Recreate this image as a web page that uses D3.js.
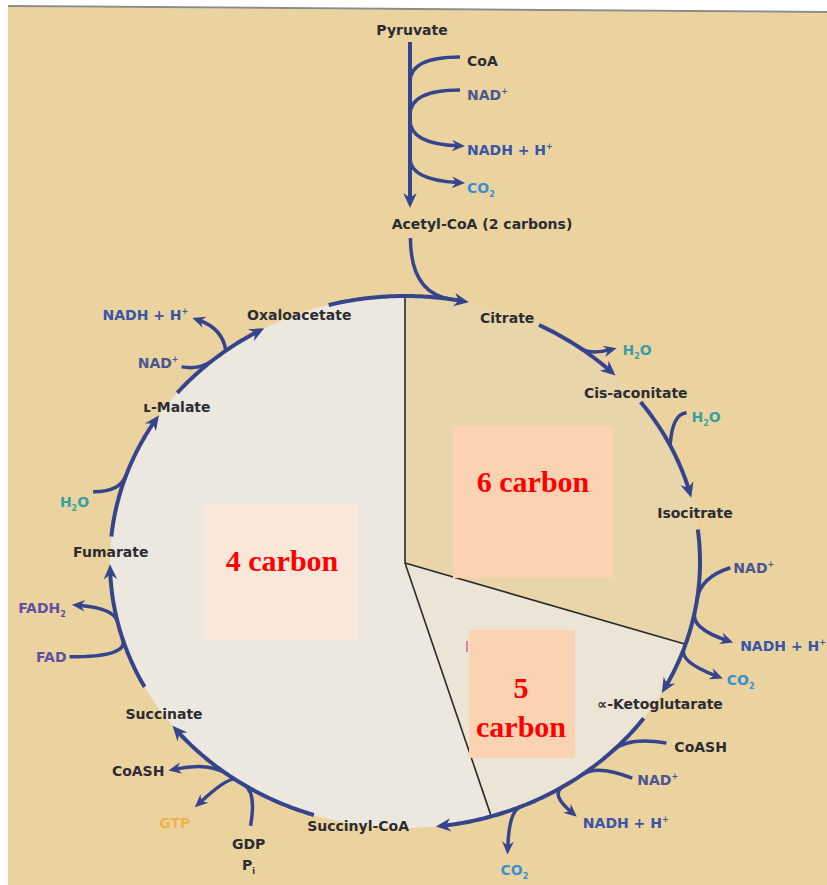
<!DOCTYPE html>
<html lang="en">
<head>
<meta charset="UTF-8">
<title>Citric acid cycle</title>
<script src="https://d3js.org/d3.v7.min.js"></script>
<style>
  body { margin: 0; background: #fff; }
  svg text { font-family: "DejaVu Sans", "Liberation Sans", sans-serif; font-weight: bold; }
</style>
</head>
<body>
<svg width="827" height="885"></svg>
<script>
// cycle intermediates, clockwise from the top (angle in degrees, 0 = top of the ring)
var metabolites = ["Citrate", "Cis-aconitate", "Isocitrate", "\u221D-Ketoglutarate", "Succinyl-CoA",
                   "Succinate", "Fumarate", "\u029F-Malate", "Oxaloacetate"];
var metaboliteAngle = [20.7, 50.9, 79.4, 121.7, 189.1, 235, 272.2, 307, 338.9];
var metaboliteRadius = [0.98, 1.008, 1.0, 1.016, 1.005, 0.997, 0.998, 0.968, 0.996];

// arrow i goes from metabolite i to metabolite i+1
var stepStart = [27, 53, 83, 126, 198, 242, 275.5, 309.5, 345];
var stepEnd = [45.5, 76, 119.5, 174, 232, 269.5, 303.5, 331.5, 372.5];

// carbon count sectors
var sectorLabels = ["6 carbon", "5 carbon", "4 carbon"];
var sectorFrom = [0, 108, 163];
var sectorTo = [108, 163, 360];

// side reactions on the ring: a = join angle, t/n = tip offset along / out of the ring, ct/cn = bend point
var ringSides = [
  {text: "H_2O", kind: "water", dir: "out", a: 36.5, t: 30, n: 20, ct: 12, anchor: "start", dx: 6, dy: 2},
  {text: "H_2O", kind: "water", dir: "in", a: 64, t: -21, n: 30, ct: -27, cn: 17, anchor: "start", dx: 5, dy: 4},
  {text: "NAD^+", kind: "nad", dir: "in", a: 98, t: -36, n: 28, ct: -22, anchor: "start", dx: 3, dy: 0},
  {text: "NADH + H^+", kind: "nadh", dir: "out", a: 101, t: 21, n: 44, ct: 16, anchor: "start", dx: 7, dy: 3},
  {text: "CO_2", kind: "co2", dir: "out", a: 109, t: 14, n: 47, ct: 14, anchor: "start", dx: 4, dy: 2},
  {text: "CoASH", kind: "dark", dir: "in", a: 135, t: -44, n: 30, ct: -20, anchor: "start", dx: 8, dy: 4},
  {text: "NAD^+", kind: "nad", dir: "in", a: 143, t: -39, n: 31, ct: -18, anchor: "start", dx: 5, dy: 2},
  {text: "NADH + H^+", kind: "nadh", dir: "out", a: 147.6, t: 3, n: 33, ct: 15, anchor: "start", dx: 6, dy: 6},
  {text: "CO_2", kind: "co2", dir: "out", a: 157, t: 29, n: 40, ct: 12, anchor: "middle", dx: 7, dy: 15},
  {text: "GDP\nP_i", kind: "dark", dir: "in", a: 213, t: -26, n: 32, ct: -14, anchor: "middle", dx: -2, dy: 18},
  {text: "GTP", kind: "gtp", dir: "out", a: 215, t: 20, n: 45, ct: 8, anchor: "middle", dx: -20, dy: 16},
  {text: "CoASH", kind: "dark", dir: "out", a: 217, t: 51, n: 30, ct: 22, anchor: "end", dx: -4, dy: 0},
  {text: "FAD", kind: "fad", dir: "in", a: 253, t: 1, n: 56, ct: -18, anchor: "end", dx: -3, dy: 0},
  {text: "FADH_2", kind: "fad", dir: "out", a: 257, t: 28, n: 40, ct: 14, anchor: "end", dx: -6, dy: 3},
  {text: "H_2O", kind: "water", dir: "in", a: 289, t: -27, n: 25, ct: -18, anchor: "end", dx: -4, dy: 10},
  {text: "NAD^+", kind: "nad", dir: "in", a: 319, t: -27, n: 14, ct: -14, anchor: "end", dx: -3, dy: -4},
  {text: "NADH + H^+", kind: "nadh", dir: "out", a: 322.6, t: -9, n: 46, ct: 10, cn: 20, anchor: "end", dx: -4, dy: -3},
  {text: "", kind: "dark", dir: "in", a: 9, t: -49, n: 55, ct: -41, anchor: "start", dx: 0, dy: 0}
];

// pyruvate -> acetyl-CoA stem, "at" = y where the side arrow joins
var stemSides = [
  {text: "CoA", kind: "dark", dir: "in", at: 82, t: -25, n: 50, ct: -25, anchor: "start", dx: 7, dy: 4},
  {text: "NAD^+", kind: "nad", dir: "in", at: 115, t: -25, n: 50, ct: -25, anchor: "start", dx: 7, dy: 5},
  {text: "NADH + H^+", kind: "nadh", dir: "out", at: 120, t: 26, n: 55, ct: 24, anchor: "start", dx: 2, dy: 4},
  {text: "CO_2", kind: "co2", dir: "out", at: 158, t: 25, n: 55, ct: 22, anchor: "start", dx: 2, dy: 5}
];

var NAVY = "#36458b";
var kindColor = {dark: "#2c2c32", nad: "#4a5690", nadh: "#3a55a6", co2: "#3b8fd0",
                 water: "#3c9ea5", fad: "#5f51a0", gtp: "#f0b34a"};

var svg = d3.select("svg");
var CX = 405, CY = 562, RX = 295, RY = 266;
var HUB = [405, 563];
var STEM_X = 410;

var rad = d3.scaleLinear().domain([0, 360]).range([0, 2 * Math.PI]);

function pt(a, r) {
  r = r || 1;
  var t = rad(a);
  return [CX + RX * r * Math.sin(t), CY - RY * r * Math.cos(t)];
}
function frame(a) {
  var t = rad(a);
  var tx = RX * Math.cos(t), ty = RY * Math.sin(t);
  var l = Math.hypot(tx, ty);
  tx /= l; ty /= l;
  return {T: [tx, ty], N: [ty, -tx]};
}
function local(J, fr, t, n) {
  return [J[0] + fr.T[0] * t + fr.N[0] * n, J[1] + fr.T[1] * t + fr.N[1] * n];
}
function unit(p, q) {
  var dx = q[0] - p[0], dy = q[1] - p[1], l = Math.hypot(dx, dy);
  return [dx / l, dy / l];
}

// background
svg.append("rect").attr("width", 827).attr("height", 885).attr("fill", "#ffffff");
svg.append("path").attr("d", "M8,7 L827,13 L827,885 L8,885 Z").attr("fill", "#ebd3a0");
svg.append("path").attr("d", "M8,6 L827,12").attr("stroke", "#8c8c84").attr("stroke-width", 2);

// sectors inside the ring
var sectorFill = ["#e9d5aa", "#ece4d4", "#ece8e0"];
var line = d3.line();
sectorLabels.forEach(function(lbl, i) {
  var pts = d3.range(sectorFrom[i], sectorTo[i], 1).concat([sectorTo[i]]).map(function(a) { return pt(a); });
  svg.append("path").attr("d", line([HUB].concat(pts)) + "Z").attr("fill", sectorFill[i]);
});

// spokes
sectorFrom.forEach(function(a) {
  var e = pt(a);
  svg.append("line").attr("x1", HUB[0]).attr("y1", HUB[1]).attr("x2", e[0]).attr("y2", e[1])
    .attr("stroke", "#2a2a2a").attr("stroke-width", 1.6);
});

// carbon boxes
var carbonBox = [[453, 426, 160, 152, "#fbd3b3"], [469, 630, 106, 128, "#fbd3b3"], [206, 504, 152, 136, "#f9e7da"]];
carbonBox.forEach(function(b) {
  svg.append("rect").attr("x", b[0]).attr("y", b[1]).attr("width", b[2]).attr("height", b[3]).attr("fill", b[4]);
});
svg.append("rect").attr("x", 466).attr("y", 641).attr("width", 2).attr("height", 11).attr("fill", "#d9849f");

function carbonText(str, x, y) {
  svg.append("text").attr("x", x).attr("y", y).attr("text-anchor", "middle")
    .style("font-family", "'Liberation Serif', 'DejaVu Serif', serif").style("font-size", "30px")
    .attr("fill", "#ff0000").text(str);
}
carbonText(sectorLabels[0], 533, 492);
carbonText(sectorLabels[1].split(" ")[0], 521, 698);
carbonText(sectorLabels[1].split(" ")[1], 521, 737);
carbonText(sectorLabels[2], 282, 571);

var g = svg.append("g");

function headPath(size) {
  return "M0,0 L" + (-size) + "," + (-size * 0.45) + " L" + (-size * 0.68) + ",0 L" + (-size) + "," + (size * 0.45) + "Z";
}
function drawHead(tip, dir, size) {
  var ang = Math.atan2(dir[1], dir[0]) * 180 / Math.PI;
  g.append("path").attr("d", headPath(size))
    .attr("transform", "translate(" + tip[0] + "," + tip[1] + ") rotate(" + ang + ")")
    .attr("fill", NAVY);
}

function richText(x, y, str, color, anchor) {
  str.split("\n").forEach(function(row, li) {
    var t = g.append("text").attr("x", x).attr("y", y + 5 + li * 21)
      .attr("text-anchor", anchor).attr("fill", color).style("font-size", "14px");
    var parts = row.split(/([_^].)/).filter(function(s) { return s.length; });
    var shift = 0;
    parts.forEach(function(p) {
      var target = 0, txt = p, small = false;
      if (p[0] === "^") { target = -6; txt = p.slice(1); small = true; }
      else if (p[0] === "_") { target = 4; txt = p.slice(1); small = true; }
      var ts = t.append("tspan").attr("dy", target - shift).text(txt);
      if (small) ts.style("font-size", "8px");
      shift = target;
    });
  });
}

// main ring arrows
stepStart.forEach(function(s, i) {
  var e = stepEnd[i];
  var pts = d3.range(s, e, 0.5).concat([e]).map(function(a) { return pt(a); });
  var tip = pts[pts.length - 1];
  var dir = unit(pt(e - 2), tip);
  var cut = [tip[0] - dir[0] * 9, tip[1] - dir[1] * 9];
  pts = pts.filter(function(p) { return Math.hypot(p[0] - tip[0], p[1] - tip[1]) > 9; });
  pts.push(cut);
  g.append("path").attr("d", line(pts)).attr("fill", "none")
    .attr("stroke", NAVY).attr("stroke-width", 4);
  drawHead(tip, dir, 15);
});

function drawSide(J, fr, b) {
  var tip = local(J, fr, b.t, b.n);
  var C = local(J, fr, b.ct, b.cn || 0);
  if (b.dir === "in") {
    g.append("path").attr("d", "M" + tip + " Q" + C + " " + J)
      .attr("fill", "none").attr("stroke", NAVY).attr("stroke-width", 3.5);
  } else {
    var dir = unit(C, tip);
    var cut = [tip[0] - dir[0] * 7, tip[1] - dir[1] * 7];
    g.append("path").attr("d", "M" + J + " Q" + C + " " + cut)
      .attr("fill", "none").attr("stroke", NAVY).attr("stroke-width", 3.5);
    drawHead(tip, dir, 13);
  }
  if (b.text) richText(tip[0] + b.dx, tip[1] + b.dy, b.text, kindColor[b.kind], b.anchor);
}

ringSides.forEach(function(b) { drawSide(pt(b.a), frame(b.a), b); });

// stem
var stemTop = 42, stemTip = 208;
g.append("line").attr("x1", STEM_X).attr("y1", stemTop).attr("x2", STEM_X).attr("y2", stemTip - 9)
  .attr("stroke", NAVY).attr("stroke-width", 4);
drawHead([STEM_X, stemTip], [0, 1], 15);
stemSides.forEach(function(b) { drawSide([STEM_X, b.at], {T: [0, 1], N: [1, 0]}, b); });

richText(412, 30, "Pyruvate", kindColor.dark, "middle");
richText(482, 224, "Acetyl-CoA (2 carbons)", kindColor.dark, "middle");

// metabolite labels
metabolites.forEach(function(m, i) {
  var p = pt(metaboliteAngle[i], metaboliteRadius[i]);
  richText(p[0], p[1], m, kindColor.dark, "middle");
});
</script>
</body>
</html>
